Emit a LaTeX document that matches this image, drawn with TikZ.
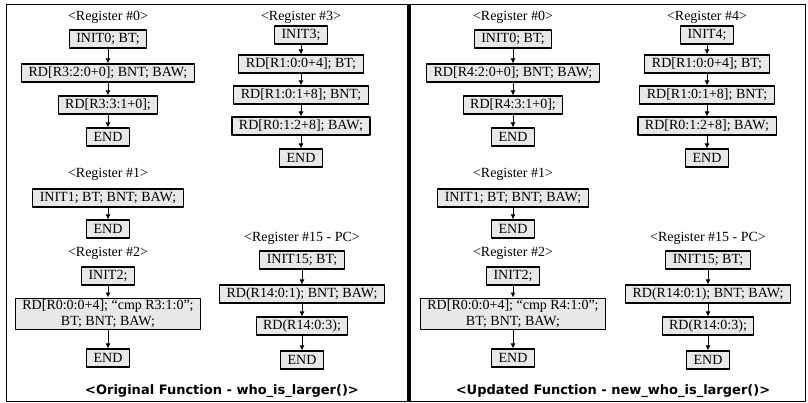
\documentclass[tikz,border=0pt]{standalone}
\usepackage{fontspec}
\setmainfont{Liberation Serif}
\newfontfamily\capfont{DejaVu Sans}
\usetikzlibrary{arrows.meta}
\newcommand\boxfont{\fontsize{14}{16}\selectfont}

\begin{document}
\begin{tikzpicture}[x=1pt, y=-1pt, line join=round,
  cell/.style={draw, line width=1.1pt, fill=black!9, inner xsep=7pt, inner ysep=2pt,
    minimum height=18pt, font=\boxfont},
  tag/.style={inner sep=1pt, font=\boxfont},
  flow/.style={-{Latex[length=5pt,width=5pt]}, line width=0.9pt},
  caption/.style={inner sep=1pt, font=\capfont\bfseries\fontsize{13}{15}\selectfont}]
  \useasboundingbox (0,0) rectangle (808,403);
  % the frame
  \draw[line width=0.9pt] (6,4) rectangle (805,401);
  \draw[line width=3.5pt] (409,4) -- (409,401);
  % original function
  \node[tag] (Lr0) at (108,17) {<Register \#0>};
  \node[cell] (La1) at (108,39) {INIT0; BT;};
  \node[cell] (La2) at (108,73) {RD[R3:2:0+0]; BNT; BAW;};
  \node[cell] (La3) at (108,105) {RD[R3:3:1+0];};
  \node[cell] (La4) at (108,137) {END};
  \node[tag] (Lr1) at (108,174) {<Register \#1>};
  \node[cell] (Lb1) at (108,198) {INIT1; BT; BNT; BAW;};
  \node[cell] (Lb2) at (108,229) {END};
  \node[tag] (Lr2) at (108,253) {<Register \#2>};
  \node[cell] (Lc1) at (108,276) {INIT2;};
  \node[cell, align=center] (Lc2) at (108,314) {RD[R0:0:0+4]; ``cmp R3:1:0'';\\BT; BNT; BAW;};
  \node[cell] (Lc3) at (108,358) {END};
  \node[tag] (Lr3) at (301,17) {<Register \#3>};
  \node[cell] (Ld1) at (301,35) {INIT3;};
  \node[cell] (Ld2) at (301,64) {RD[R1:0:0+4]; BT;};
  \node[cell] (Ld3) at (301,95) {RD[R1:0:1+8]; BNT;};
  \node[cell] (Ld4) at (301,126) {RD[R0:1:2+8]; BAW;};
  \node[cell] (Ld5) at (301,158) {END};
  \node[tag] (Lr15) at (302,238) {<Register \#15 - PC>};
  \node[cell] (Le1) at (302,260) {INIT15; BT;};
  \node[cell] (Le2) at (302,294) {RD(R14:0:1); BNT; BAW;};
  \node[cell] (Le3) at (302,326) {RD(R14:0:3);};
  \node[cell] (Le4) at (302,360) {END};
  \node[caption] (Lt) at (222,391) {<Original Function - who\_is\_larger()>};
  % updated function
  \node[tag] (Rr0) at (513,17) {<Register \#0>};
  \node[cell] (Ra1) at (513,39) {INIT0; BT;};
  \node[cell] (Ra2) at (513,73) {RD[R4:2:0+0]; BNT; BAW;};
  \node[cell] (Ra3) at (513,105) {RD[R4:3:1+0];};
  \node[cell] (Ra4) at (513,137) {END};
  \node[tag] (Rr1) at (513,174) {<Register \#1>};
  \node[cell] (Rb1) at (513,198) {INIT1; BT; BNT; BAW;};
  \node[cell] (Rb2) at (513,229) {END};
  \node[tag] (Rr2) at (513,253) {<Register \#2>};
  \node[cell] (Rc1) at (513,276) {INIT2;};
  \node[cell, align=center] (Rc2) at (513,314) {RD[R0:0:0+4]; ``cmp R4:1:0'';\\BT; BNT; BAW;};
  \node[cell] (Rc3) at (513,358) {END};
  \node[tag] (Rr4) at (707,17) {<Register \#4>};
  \node[cell] (Rd1) at (707,35) {INIT4;};
  \node[cell] (Rd2) at (707,64) {RD[R1:0:0+4]; BT;};
  \node[cell] (Rd3) at (707,95) {RD[R1:0:1+8]; BNT;};
  \node[cell] (Rd4) at (707,126) {RD[R0:1:2+8]; BAW;};
  \node[cell] (Rd5) at (707,158) {END};
  \node[tag] (Rr15) at (708,238) {<Register \#15 - PC>};
  \node[cell] (Re1) at (708,260) {INIT15; BT;};
  \node[cell] (Re2) at (708,294) {RD(R14:0:1); BNT; BAW;};
  \node[cell] (Re3) at (708,326) {RD(R14:0:3);};
  \node[cell] (Re4) at (708,360) {END};
  \node[caption] (Rt) at (613,391) {<Updated Function - new\_who\_is\_larger()>};
  % the arrows
  \foreach \s in {L,R}
    \foreach \a/\b in {a1/a2,a2/a3,a3/a4,b1/b2,c1/c2,c2/c3,d1/d2,d2/d3,d3/d4,d4/d5,e1/e2,e2/e3,e3/e4}
      \draw[flow] (\s\a) -- (\s\b);
\end{tikzpicture}
\end{document}
